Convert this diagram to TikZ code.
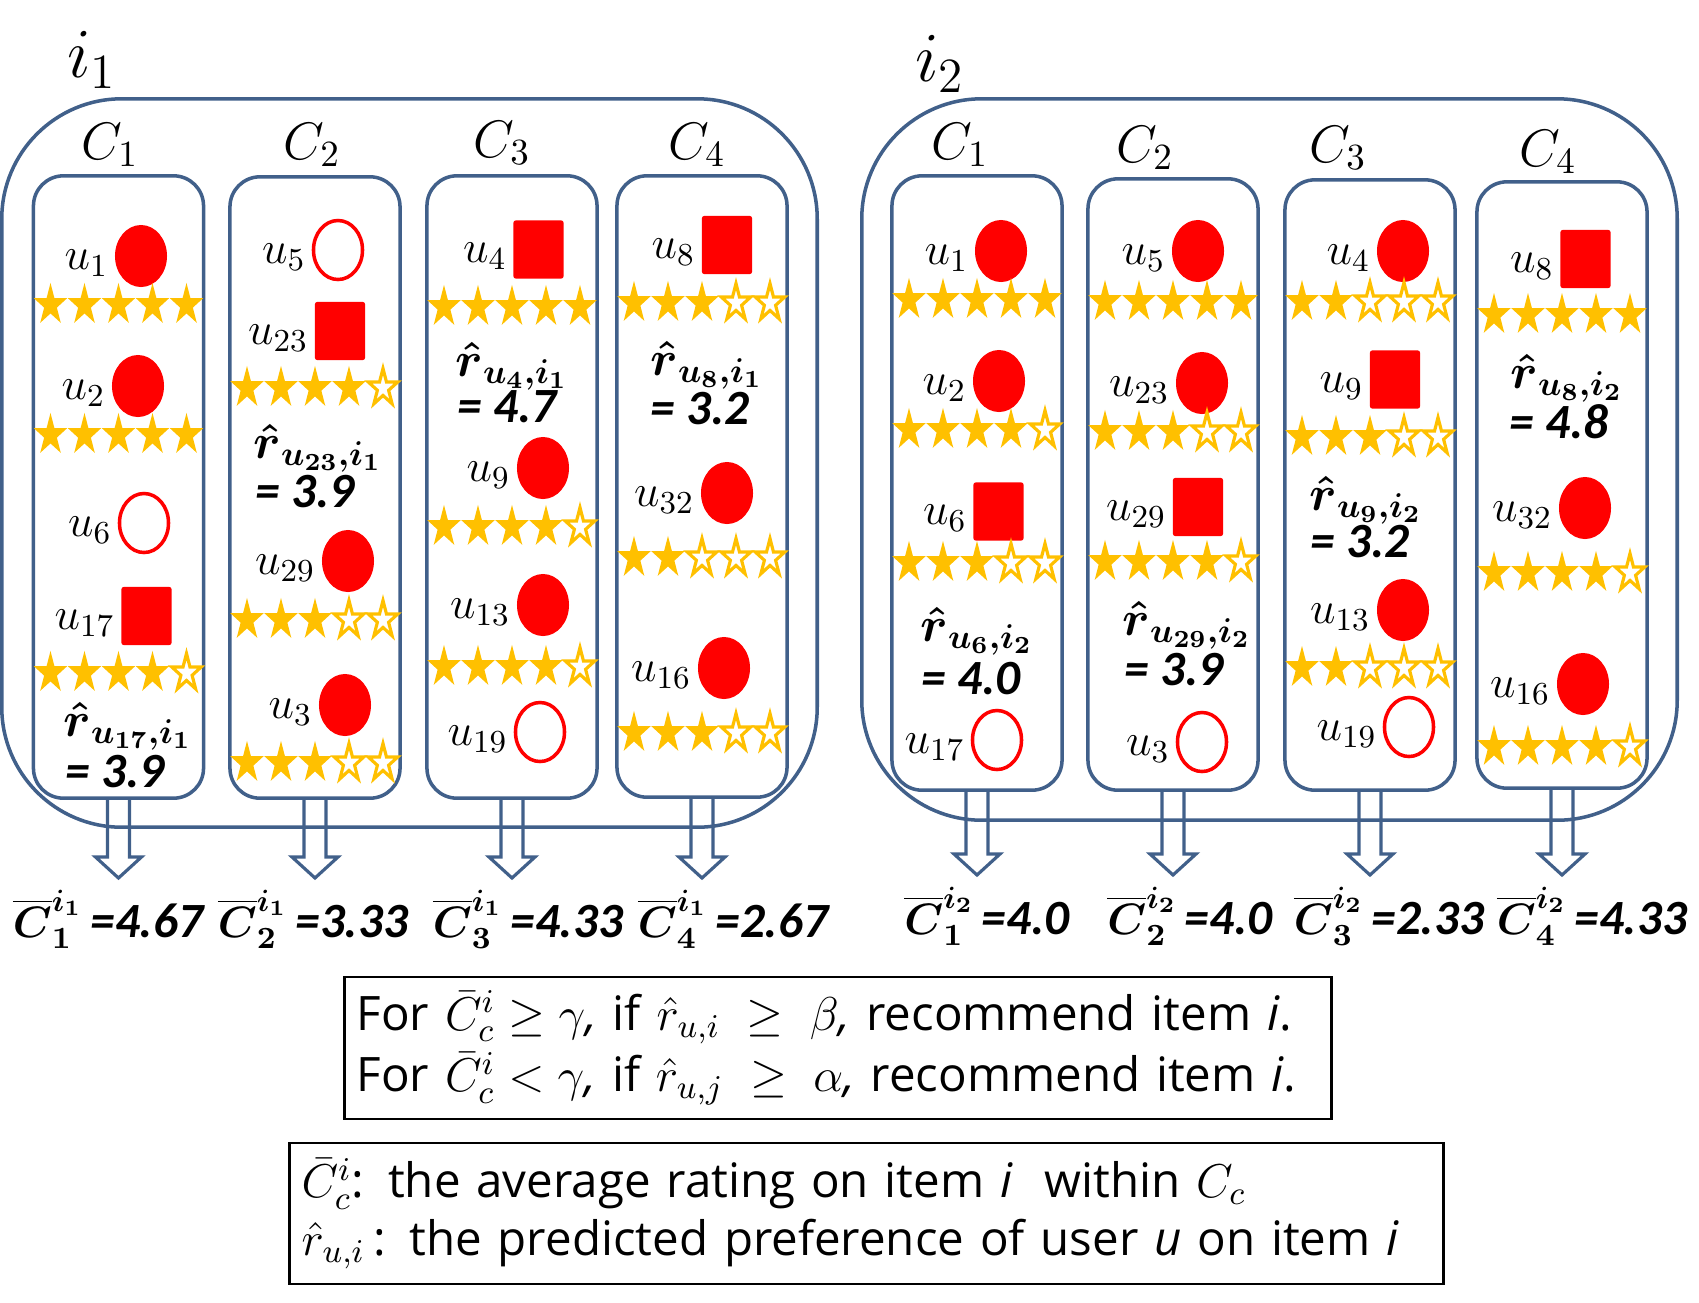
\RequirePackage{fix-cm}
\documentclass[tikz,border=0pt]{standalone}
\usepackage{amsmath}
\usepackage[no-math]{fontspec}
\setmainfont{Open Sans}
\newfontfamily\calib{Carlito}
\usetikzlibrary{positioning,calc,shapes.geometric}

\definecolor{boxblue}{RGB}{65,96,138}
\definecolor{stargold}{RGB}{255,192,0}
\definecolor{dotred}{RGB}{255,0,0}

\tikzset{
  itembox/.style={draw=boxblue, line width=1pt, rounded corners=1.2cm},
  clusterbox/.style={draw=boxblue, line width=1pt, rounded corners=0.3cm, minimum width=1.7cm, inner sep=0},
  fulldot/.style={ellipse, fill=dotred, minimum width=0.52cm, minimum height=0.62cm, inner sep=0},
  emptydot/.style={ellipse, draw=dotred, line width=1pt, fill=white, minimum width=0.49cm, minimum height=0.59cm, inner sep=0},
  fullsq/.style={rectangle, fill=dotred, rounded corners=0.6pt, minimum width=0.5cm, minimum height=0.58cm, inner sep=0},
  ulab/.style={inner sep=0.5pt, font=\fontsize{13}{15}\selectfont},
  clab/.style={inner sep=0, font=\fontsize{15}{18}\selectfont},
  ilab/.style={inner sep=0, font=\fontsize{20}{24}\selectfont},
  rhat/.style={inner sep=0, font=\fontsize{14}{16}\selectfont},
  rval/.style={inner sep=0, font=\calib\bfseries\itshape\fontsize{14}{16}\selectfont},
  avglab/.style={inner sep=0, font=\fontsize{12.5}{15}\selectfont},
  arrowline/.style={draw=boxblue, line width=0.9pt, line join=miter},
  notebox/.style={draw, line width=0.8pt, align=left, inner xsep=0.12cm, inner ysep=0},
  pics/fullstar/.style={code={\fill[stargold, yscale=-1.26] (90:17.5) \foreach \a in {0,...,4}{ -- ({126+72*\a}:6.7) -- ({162+72*\a}:17.5)} -- cycle;}},
  pics/emptystar/.style={code={\filldraw[draw=stargold, fill=white, line width=0.9pt, yscale=-1.26] (90:15.5) \foreach \a in {0,...,4}{ -- ({126+72*\a}:5.9) -- ({162+72*\a}:15.5)} -- cycle;}}
}

\newcommand{\putuser}[5]{\node[#2] (#1) at (#3,#4) {};
  \node[ulab, left=1pt of #1, yshift=-2pt] (#1l) {$u_{#5}$};}
\newcommand{\putstars}[3]{\foreach \k in {1,...,5}{\ifnum\k>#3\relax \pic at ({#1+34*(\k-3)},#2) {emptystar};\else \pic at ({#1+34*(\k-3)},#2) {fullstar};\fi}}
\newcommand{\hollowarrow}[2]{\coordinate (tip#1) at ($(#1.south |- #2.center)+(0,-41)$);
  \draw[arrowline] ($(#1.south)+(-11,0)$) -- ($(tip#1)+(-11,-21)$) -- ($(tip#1)+(-23,-21)$) -- (tip#1) -- ($(tip#1)+(23,-21)$) -- ($(tip#1)+(11,-21)$) -- ($(#1.south)+(11,0)$);}

\begin{document}
\begin{tikzpicture}[x=0.01cm, y=-0.01cm]
  \useasboundingbox (0,0) rectangle (1699,1302);
  \node[ilab] (ia) at (92,60) {$i_1$};
  \node[ilab] (ib) at (940,64) {$i_2$};
  \node[itembox, minimum width=8.15cm, minimum height=7.28cm] (itema) at (409.5,463) {};
  \node[itembox, minimum width=8.15cm, minimum height=7.21cm] (itemb) at (1269.5,459.5) {};
  \foreach \n/\x/\y/\h in {a1/118.5/487/6.22, a2/315/487.5/6.21, a3/512/487/6.22, a4/702/486.5/6.21, b1/977/483/6.14, b2/1173/484.5/6.11, b3/1370/485/6.10, b4/1562/485/6.06}
    \node[clusterbox, minimum height=\h cm] (\n) at (\x,\y) {};
  \foreach \x/\y [count=\i] in {110/145, 312/145, 502/143, 697/145}
    \node[clab] (ca\i) at (\x,\y) {$C_{\i}$};
  \foreach \x/\y [count=\i] in {960/145, 1145/148, 1338/148, 1548/152}
    \node[clab] (cb\i) at (\x,\y) {$C_{\i}$};

  \putuser{a1u1}{fulldot}{141}{256}{1} \putstars{118.5}{305}{5}
  \putuser{a1u2}{fulldot}{138}{386}{2} \putstars{118.5}{435}{5}
  \putuser{a1u6}{emptydot}{144}{523}{6}
  \putuser{a1u17}{fullsq}{146.5}{616}{17} \putstars{118.5}{673}{4}
  \node[rhat] (a1r) at (128,726) {$\boldsymbol{\hat{r}}_{\boldsymbol{u_{17},i_1}}$};
  \node[rval] (a1v) at (115,772) {= 3.9};

  \putuser{a2u5}{emptydot}{338}{250}{5}
  \putuser{a2u23}{fullsq}{340}{331}{23} \putstars{315}{388}{4}
  \node[rhat] (a2r) at (318,448) {$\boldsymbol{\hat{r}}_{\boldsymbol{u_{23},i_1}}$};
  \node[rval] (a2v) at (305,492) {= 3.9};
  \putuser{a2u29}{fulldot}{348}{561}{29} \putstars{315}{620}{3}
  \putuser{a2u3}{fulldot}{345}{705}{3} \putstars{315}{763}{3}

  \putuser{a3u4}{fullsq}{538.5}{249.5}{4} \putstars{512}{307}{5}
  \node[rhat] (a3r) at (512,366) {$\boldsymbol{\hat{r}}_{\boldsymbol{u_{4},i_1}}$};
  \node[rval] (a3v) at (507,407) {= 4.7};
  \putuser{a3u9}{fulldot}{543}{468}{9} \putstars{512}{527}{4}
  \putuser{a3u13}{fulldot}{543}{605}{13} \putstars{512}{667}{4}
  \putuser{a3u19}{emptydot}{540}{732}{19}

  \putuser{a4u8}{fullsq}{727}{245}{8} \putstars{702}{303}{3}
  \node[rhat] (a4r) at (707,365) {$\boldsymbol{\hat{r}}_{\boldsymbol{u_{8},i_1}}$};
  \node[rval] (a4v) at (700,409) {= 3.2};
  \putuser{a4u32}{fulldot}{727}{493}{32} \putstars{702}{558}{2}
  \putuser{a4u16}{fulldot}{724}{668}{16} \putstars{702}{733}{3}

  \putuser{b1u1}{fulldot}{1001}{251}{1} \putstars{977}{300}{5}
  \putuser{b1u2}{fulldot}{999}{381}{2} \putstars{977}{430}{4}
  \putuser{b1u6}{fullsq}{998.5}{511.5}{6} \putstars{977}{563}{3}
  \node[rhat] (b1r) at (977,631) {$\boldsymbol{\hat{r}}_{\boldsymbol{u_{6},i_2}}$};
  \node[rval] (b1v) at (971,679) {= 4.0};
  \putuser{b1u17}{emptydot}{997}{740}{17}

  \putuser{b2u5}{fulldot}{1198}{251}{5} \putstars{1173}{302}{5}
  \putuser{b2u23}{fulldot}{1202}{383}{23} \putstars{1173}{432}{3}
  \putuser{b2u29}{fullsq}{1198}{507}{29} \putstars{1173}{562}{4}
  \node[rhat] (b2r) at (1187,625) {$\boldsymbol{\hat{r}}_{\boldsymbol{u_{29},i_2}}$};
  \node[rval] (b2v) at (1174,670) {= 3.9};
  \putuser{b2u3}{emptydot}{1202}{742}{3}

  \putuser{b3u4}{fulldot}{1403}{251}{4} \putstars{1370}{302}{2}
  \putuser{b3u9}{fullsq}{1395}{379.5}{9} \putstars{1370}{437}{3}
  \node[rhat] (b3r) at (1366,500) {$\boldsymbol{\hat{r}}_{\boldsymbol{u_{9},i_2}}$};
  \node[rval] (b3v) at (1360,542) {= 3.2};
  \putuser{b3u13}{fulldot}{1403}{610}{13} \putstars{1370}{668}{2}
  \putuser{b3u19}{emptydot}{1409}{727}{19}

  \putuser{b4u8}{fullsq}{1585.5}{259}{8} \putstars{1562}{315}{5}
  \node[rhat] (b4r) at (1567,378) {$\boldsymbol{\hat{r}}_{\boldsymbol{u_{8},i_2}}$};
  \node[rval] (b4v) at (1559,422) {= 4.8};
  \putuser{b4u32}{fulldot}{1585}{508}{32} \putstars{1562}{573}{4}
  \putuser{b4u16}{fulldot}{1583}{684}{16} \putstars{1562}{747}{4}

  \foreach \n/\x/\k/\val in {a1/108/1/4.67, a2/313/2/3.33, a3/528/3/4.33, a4/733/4/2.67}
    \node[avglab] (m\n) at (\x,919) {$\overline{\boldsymbol{C}}^{\boldsymbol{i_1}}_{\boldsymbol{\k}}$\,{\calib\bfseries\itshape\fontsize{14}{17}\selectfont=\val}};
  \foreach \n/\x/\k/\val in {b1/987/1/4.0, b2/1190/2/4.0, b3/1389/3/2.33, b4/1592/4/4.33}
    \node[avglab] (m\n) at (\x,916) {$\overline{\boldsymbol{C}}^{\boldsymbol{i_2}}_{\boldsymbol{\k}}$\,{\calib\bfseries\itshape\fontsize{14}{17}\selectfont=\val}};
  \foreach \n in {a1,a2,a3,a4,b1,b2,b3,b4}
    \hollowarrow{\n}{m\n};

  \node[notebox, text width=9.62cm, minimum height=1.42cm, font=\fontsize{13.5}{17.5}\selectfont] (rules) at (838,1048) {For $\bar{C}^{i}_{c} \geq \gamma$\textit{,} if $\hat{r}_{u,i}\;\geq\;\beta$\textit{,} recommend item \textit{i}.\\ For $\bar{C}^{i}_{c} < \gamma$\textit{,} if $\hat{r}_{u,j}\;\geq\;\alpha$\textit{,} recommend item \textit{i}.};
  \node[notebox, text width=11.29cm, minimum height=1.41cm, font=\fontsize{13.5}{16.5}\selectfont] (notes) at (866.5,1213.5) {$\bar{C}^{i}_{c}$: the average rating on item \textit{i}\ \ within $C_c$\\ $\hat{r}_{u,i}$\,: the predicted preference of user \textit{u} on item \textit{i}};
\end{tikzpicture}
\end{document}
